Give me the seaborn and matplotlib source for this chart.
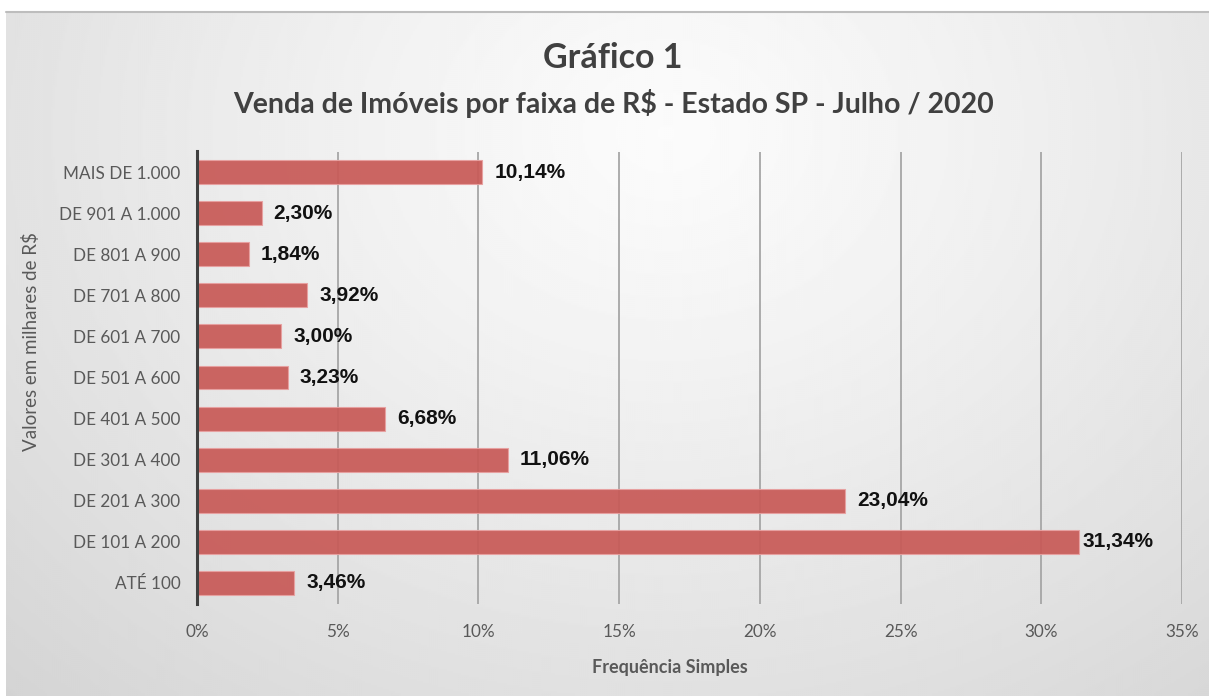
import numpy as np
import pandas as pd
import matplotlib
matplotlib.use("Agg")
import matplotlib.pyplot as plt
import seaborn as sns
from matplotlib.ticker import FuncFormatter

categories = ["MAIS DE 1.000", "DE 901 A 1.000", "DE 801 A 900", "DE 701 A 800",
              "DE 601 A 700", "DE 501 A 600", "DE 401 A 500", "DE 301 A 400",
              "DE 201 A 300", "DE 101 A 200", "ATÉ 100"]
values = [10.14, 2.30, 1.84, 3.92, 3.00, 3.23, 6.68, 11.06, 23.04, 31.34, 3.46]
value_labels = ["10,14%", "2,30%", "1,84%", "3,92%", "3,00%", "3,23%", "6,68%",
                "11,06%", "23,04%", "31,34%", "3,46%"]
x_ticks = [0, 5, 10, 15, 20, 25, 30, 35]

df = pd.DataFrame({"faixa": categories, "pct": values})

sns.set_theme(style="white")
plt.rcParams["font.family"] = ["Lato", "DejaVu Sans"]

W, H = 1209, 696
fig = plt.figure(figsize=(W / 100, H / 100), dpi=100)
fig.patch.set_facecolor("white")

# background gradient panel
bg = fig.add_axes([6 / W, 0, (W - 6) / W, 1 - 12 / H], zorder=0)
ny, nx = 342, 602
yy, xx = np.mgrid[0:ny, 0:nx]
cx, cy = 330, 60
r = np.sqrt(((xx - cx) / 520.0) ** 2 + ((yy - cy) / 420.0) ** 2)
img = np.clip(0.985 - 0.17 * r ** 1.2, 0.74, 1.0)
bg.imshow(img, cmap="gray", vmin=0, vmax=1, aspect="auto",
          extent=[0, 1, 0, 1], origin="upper", interpolation="bilinear")
bg.axis("off")
fig.add_artist(plt.Line2D([6 / W, 1], [1 - 12 / H, 1 - 12 / H],
                          color="#bdbdbd", lw=1.5, transform=fig.transFigure, zorder=1))

left, right = 197 / W, 1182 / W
top, bottom = 1 - 151.5 / H, 1 - 603.5 / H
ax = fig.add_axes([left, bottom, right - left, top - bottom], zorder=2)
ax.set_facecolor("none")

sns.barplot(data=df, x="pct", y="faixa", order=categories, orient="h",
            color="#c85a57", width=0.58, ax=ax, zorder=3,
            edgecolor="#e8a0a0", linewidth=0.8, saturation=1, alpha=0.93)

ax.set_xlim(0, 35)
ax.set_ylim(len(categories) - 0.5, -0.5)
ax.set_xticks(x_ticks)
ax.xaxis.set_major_formatter(FuncFormatter(lambda v, p: f"{int(v)}%"))
ax.grid(axis="x", color="#a6a6a6", lw=1.3, zorder=1)
ax.set_axisbelow(True)
for s in ["top", "right", "bottom"]:
    ax.spines[s].set_visible(False)
ax.spines["left"].set_color("#404040")
ax.spines["left"].set_linewidth(2.2)
ax.spines["left"].set_zorder(5)

ax.tick_params(axis="y", length=0, pad=12, labelsize=12.3, labelcolor="#595959")
ax.tick_params(axis="x", length=0, pad=15, labelsize=12.3, labelcolor="#595959")

ax.set_xlabel("Frequência Simples", fontsize=13, fontweight="bold",
              color="#595959")
ax.xaxis.set_label_coords((670 - 197) / 985, (603.5 - 659) / 452)
ax.set_ylabel("Valores em milhares de R$", fontsize=13.5, fontweight="normal",
              color="#595959")
ax.yaxis.set_label_coords(-157 / 985, (603.5 - 342) / 452)

for i, (v, lab) in enumerate(zip(values, value_labels)):
    off = 0.14 if v > 30 else 0.42
    ax.text(v + off, i, lab, va="center", ha="left", fontsize=15,
            fontweight="bold", color="#111111",
            family=["Liberation Sans", "DejaVu Sans"],
            zorder=6)

fig.text(613 / W, 1 - 58 / H, "Gráfico 1", ha="center", va="center",
         fontsize=24.5, fontweight="bold", color="#404040")
fig.text(614 / W, 1 - 103 / H, "Venda de Imóveis por faixa de R$ - Estado SP - Julho / 2020",
         ha="center", va="center", fontsize=20.5, fontweight="bold", color="#404040")

fig.savefig("out.png", dpi=100)
